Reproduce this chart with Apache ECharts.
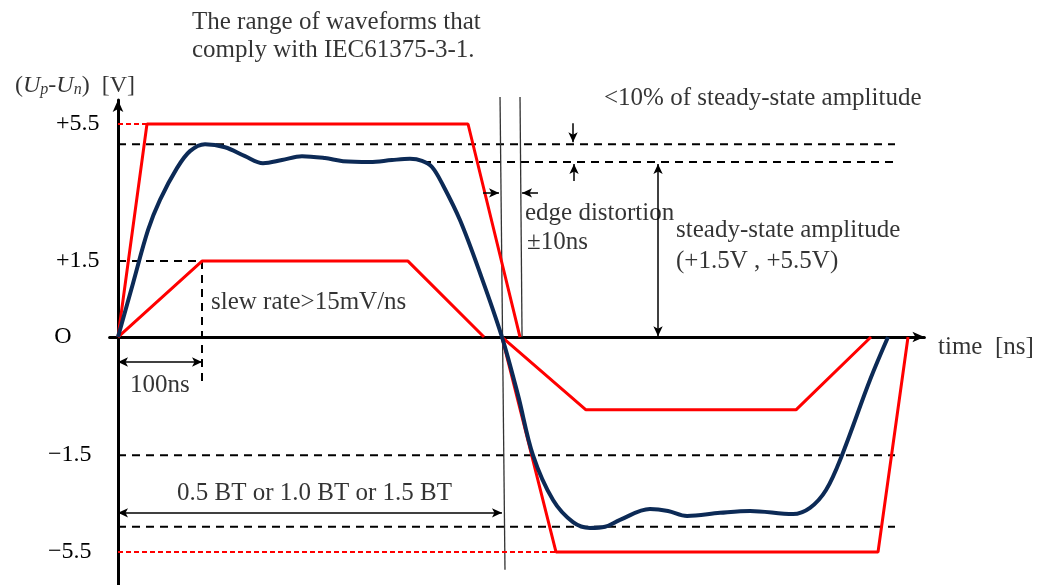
<!DOCTYPE html>
<html><head><meta charset="utf-8">
<script src="https://cdn.jsdelivr.net/npm/echarts@6/dist/echarts.min.js"></script>
<style>html,body{margin:0;padding:0;background:#fff}#c{width:1046px;height:585px}</style>
</head><body><div id="c"></div>
<script>
// Schematic (not to scale): x in ns, y in diagram units (outer envelope = ±5.5)
const yTickValues = [5.5, 1.96, 0, -3.05, -5.55];
const yTickLabels = ['+5.5', '+1.5', 'O', '−1.5', '−5.5'];

const bluePulse = [[0,0],[17.9,1.39],[35.7,2.76],[50,3.54],[70.2,4.36],[85.7,4.80],[103.6,4.98],[127.4,4.90],[151.2,4.67],[172.6,4.49],[195.2,4.57],[219,4.67],[246.4,4.62],[267.9,4.54],[300,4.52],[326.2,4.57],[347.6,4.60],[361.9,4.55],[373.8,4.39],[386.9,3.92],[407.1,3.02],[431,1.65],[457.1,0],[476.2,-1.50],[494,-3.05],[517.9,-4.21],[541.7,-4.78],[561.9,-4.93],[579.8,-4.90],[597.6,-4.72],[633.3,-4.44],[654.8,-4.49],[677.4,-4.62],[716.7,-4.54],[752.4,-4.49],[803.6,-4.57],[823.8,-4.41],[842.9,-3.95],[861.9,-3.05],[895.2,-1.11],[916.7,0]];
const outerPos = [[0,0],[34.5,5.5],[416.7,5.5],[478.6,0]];
const innerPos = [[0,0],[100,1.96],[345.2,1.96],[435.7,0]];
const outerNeg = [[457.1,0],[521.4,-5.55],[904.8,-5.55],[940.5,0]];
const innerNeg = [[457.1,0],[557.1,-1.88],[807.1,-1.88],[896.4,0]];
const redDashed = [[[0,5.5],[34.5,5.5]], [[0,-5.55],[521.4,-5.55]]];
const blackDashed = [
  [[0,4.98],[925,4.98]],
  [[363.1,4.52],[925,4.52]],
  [[0,1.96],[100,1.96]],
  [[100,1.96],[100,-1.24]],
  [[0,-3.05],[925,-3.05]],
  [[0,-4.90],[925,-4.90]]
];
const edgeLines = [[[454.8,6.20],[460.7,-6.01]], [[478.6,6.20],[481,0]]];
// [from, to, double-headed]
const arrows = [
  [[266.7,6.84],[192.9,5.50],false],
  [[266.7,6.84],[266.7,1.96],false],
  [[541.7,5.52],[541.7,5.03],false],
  [[542.9,4.03],[542.9,4.47],false],
  [[642.9,4.47],[642.9,0.02],true],
  [[434.5,3.72],[453.6,3.72],false],
  [[500,3.72],[481,3.72],false],
  [[0,-0.645],[100,-0.645],true],
  [[0,-4.54],[457.1,-4.54],true]
];
const notes = [
  [88.1, 8.13, 'The range of waveforms that'],
  [88.1, 7.41, 'comply with IEC61375-3-1.'],
  [578.6, 6.17, '<10% of steady-state amplitude'],
  [484.5, 3.20, 'edge distortion'],
  [486.9, 2.43, '±10ns'],
  [664.3, 2.74, 'steady-state amplitude'],
  [664.3, 1.96, '(+1.5V , +5.5V)'],
  [110.7, 0.90, 'slew rate>15mV/ns'],
  [14.3, -1.26, '100ns'],
  [70.2, -4.03, '0.5 BT or 1.0 BT or 1.5 BT'],
  [976.2, -0.28, 'time  [ns]']
];
const yNamePos = [-122.6, 6.50];

const FONT = "'Liberation Serif','Times New Roman',serif";
const RED = '#ff0000', BLUE = '#0c2a56';

const series = [];
function seg(data, color, width, type, z) {
  series.push({type:'line', data, symbol:'none', silent:true, clip:false, z:z||2,
    lineStyle:{color, width, type}});
}
blackDashed.forEach(d => seg(d, '#000', 2, [8,6], 1));
redDashed.forEach(d => seg(d, RED, 2, [5,3], 2));
edgeLines.forEach(d => seg(d, '#333', 1.3, 'solid', 1));
seg(outerPos, RED, 3, 'solid', 3);
seg(innerPos, RED, 3, 'solid', 3);
seg(outerNeg, RED, 3, 'solid', 3);
seg(innerNeg, RED, 3, 'solid', 3);
series.push({type:'line', data: bluePulse, symbol:'none', smooth:0.35, silent:true, clip:false, z:4,
  lineStyle:{color:BLUE, width:4}});
series.push({type:'line', data:[[0,0]], symbol:'none', silent:true, clip:false, lineStyle:{width:0},
  markLine:{silent:true, animation:false, label:{show:false}, symbolSize:[7,10],
    lineStyle:{color:'#000', width:1.5, type:'solid'},
    data: arrows.map(a => [
      {coord:a[0], symbol: a[2] ? 'arrow' : 'none'},
      {coord:a[1], symbol:'arrow'}
    ])}});
series.push({type:'scatter', silent:true, clip:false, symbolSize:0, z:5,
  data: notes.map(n => ({value:[n[0], n[1]], label:{formatter:n[2]}})),
  label:{show:true, position:'right', distance:0, fontFamily:FONT, fontSize:25, color:'#000'}});
series.push({type:'scatter', silent:true, clip:false, symbolSize:0, z:5,
  data:[{value:yNamePos}],
  label:{show:true, position:'right', distance:0, color:'#000',
    formatter:'{n|(}{i|U}{s|p}{n|-}{i|U}{s|n}{n|)  [V]}',
    rich:{
      n:{fontFamily:FONT, fontSize:24, color:'#000', lineHeight:26},
      i:{fontFamily:FONT, fontSize:24, fontStyle:'italic', color:'#000', lineHeight:26},
      s:{fontFamily:FONT, fontSize:16, fontStyle:'italic', color:'#000', lineHeight:10, verticalAlign:'bottom'}
    }}});

const chart = echarts.init(document.getElementById('c'));
chart.setOption({
  animation:false,
  backgroundColor:'#fff',
  grid:{left:109.6, right:121.6, top:100, bottom:0.1, containLabel:false},
  xAxis:{type:'value', min:-10, max:960,
    axisLine:{onZero:true, symbol:['none','arrow'], symbolSize:[8,12], lineStyle:{color:'#000', width:3}},
    axisTick:{show:false}, axisLabel:{show:false}, splitLine:{show:false}},
  yAxis:{type:'value', min:-6.4, max:6.12,
    axisLine:{onZero:true, symbol:['none','arrow'], symbolSize:[8,12], lineStyle:{color:'#000', width:3}},
    axisTick:{show:false}, splitLine:{show:false},
    axisLabel:{show:true, customValues:yTickValues, margin:10,
      formatter: function(v){
        let i = 0, best = 1e9;
        yTickValues.forEach((t,k)=>{ if (Math.abs(t-v) < best){best=Math.abs(t-v); i=k;} });
        const lab = yTickLabels[i];
        const key = lab === 'O' ? 'o' : (lab[0] === '−' ? 'neg' : 'pos');
        return '{' + key + '|' + lab + '}';
      },
      rich:{
        pos:{fontFamily:FONT, fontSize:24, color:'#000'},
        neg:{fontFamily:FONT, fontSize:24, color:'#000', padding:[0,8,0,0]},
        o:{fontFamily:FONT, fontSize:24, color:'#000', padding:[0,28,0,0]}
      }}},
  series
});
</script></body></html>
